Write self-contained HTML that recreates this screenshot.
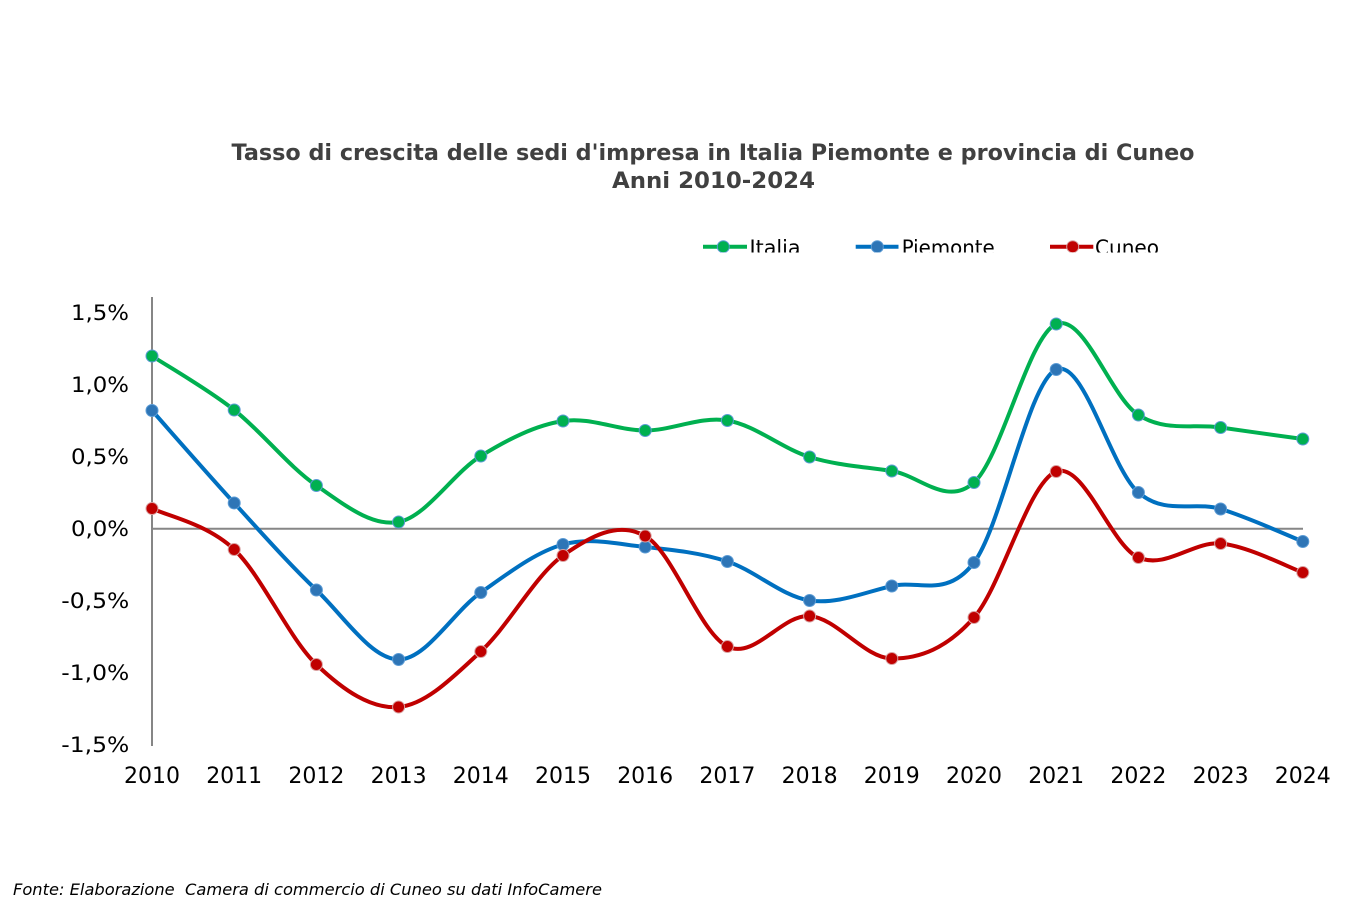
<!DOCTYPE html>
<html>
<head>
<meta charset="utf-8">
<style>
  html, body { margin:0; padding:0; background:#ffffff; }
  svg { display:block; }
</style>
</head>
<body>
<svg width="1361" height="924" viewBox="0 0 1361 924" xmlns="http://www.w3.org/2000/svg">
  <rect x="0" y="0" width="1361" height="924" fill="#ffffff"/>
  <defs>
    <clipPath id="legclip"><rect x="600" y="225" width="700" height="27.5"/></clipPath>
  </defs>

  <!-- Title -->
  <g font-family="'DejaVu Sans', 'Liberation Sans', sans-serif" font-weight="bold" font-size="22" fill="#404040" text-anchor="middle">
    <text x="713" y="160" textLength="963" lengthAdjust="spacingAndGlyphs">Tasso di crescita delle sedi d'impresa in Italia Piemonte e provincia di Cuneo</text>
    <text x="713.5" y="188" textLength="203" lengthAdjust="spacingAndGlyphs">Anni 2010-2024</text>
  </g>

  <!-- Legend -->
  <g clip-path="url(#legclip)" font-family="'DejaVu Sans', 'Liberation Sans', sans-serif" font-size="20" fill="#000">
    <line x1="703" y1="246.7" x2="747" y2="246.7" stroke="#00b050" stroke-width="4"/>
    <circle cx="723.3" cy="246.7" r="6" fill="#00b050" stroke="#5b9bd5" stroke-width="1"/>
    <text x="749.5" y="254.5" textLength="51" lengthAdjust="spacingAndGlyphs">Italia</text>

    <line x1="855.7" y1="246.7" x2="898.5" y2="246.7" stroke="#0070c0" stroke-width="4"/>
    <circle cx="877.3" cy="246.7" r="6" fill="#2e75b6" stroke="#5b9bd5" stroke-width="1"/>
    <text x="901.7" y="254.5" textLength="93" lengthAdjust="spacingAndGlyphs">Piemonte</text>

    <line x1="1050" y1="246.7" x2="1093.3" y2="246.7" stroke="#c00000" stroke-width="4"/>
    <circle cx="1072.7" cy="246.7" r="6" fill="#c00000" stroke="#d9a0a0" stroke-width="1"/>
    <text x="1095" y="254.5" textLength="64" lengthAdjust="spacingAndGlyphs">Cuneo</text>
  </g>

  <!-- Axes -->
  <line x1="152" y1="297" x2="152" y2="746" stroke="#868686" stroke-width="2"/>
  <line x1="152" y1="528.7" x2="1303" y2="528.7" stroke="#868686" stroke-width="2"/>

  <!-- Y labels -->
  <g font-family="'DejaVu Sans', 'Liberation Sans', sans-serif" font-size="21" fill="#000" text-anchor="end">
    <text x="129" y="320.2" textLength="58" lengthAdjust="spacingAndGlyphs">1,5%</text>
    <text x="129" y="392.2" textLength="58" lengthAdjust="spacingAndGlyphs">1,0%</text>
    <text x="129" y="464.2" textLength="58" lengthAdjust="spacingAndGlyphs">0,5%</text>
    <text x="129" y="536.2" textLength="58" lengthAdjust="spacingAndGlyphs">0,0%</text>
    <text x="129.3" y="608.2" textLength="68" lengthAdjust="spacingAndGlyphs">-0,5%</text>
    <text x="129.3" y="680.2" textLength="68" lengthAdjust="spacingAndGlyphs">-1,0%</text>
    <text x="129.3" y="752.2" textLength="68" lengthAdjust="spacingAndGlyphs">-1,5%</text>
  </g>

  <!-- X labels -->
  <g font-family="'DejaVu Sans', 'Liberation Sans', sans-serif" font-size="22" fill="#000" text-anchor="middle">
    <text x="152" y="783">2010</text>
    <text x="234.2" y="783">2011</text>
    <text x="316.4" y="783">2012</text>
    <text x="398.6" y="783">2013</text>
    <text x="480.8" y="783">2014</text>
    <text x="563" y="783">2015</text>
    <text x="645.2" y="783">2016</text>
    <text x="727.4" y="783">2017</text>
    <text x="809.6" y="783">2018</text>
    <text x="891.8" y="783">2019</text>
    <text x="974" y="783">2020</text>
    <text x="1056.2" y="783">2021</text>
    <text x="1138.4" y="783">2022</text>
    <text x="1220.6" y="783">2023</text>
    <text x="1302.8" y="783">2024</text>
  </g>

  <!-- Italia -->
  <path fill="none" stroke="#00b050" stroke-width="4" stroke-linejoin="round" stroke-linecap="round"
    d="M152,356 C165.7,365 206.8,388.42 234.2,410
       C261.6,431.58 289,466.83 316.4,485.5
       C343.8,504.17 371.2,526.92 398.6,522
       C426,517.08 453.4,472.83 480.8,456
       C508.2,439.17 535.6,425.25 563,421
       C590.4,416.75 617.8,430.58 645.2,430.5
       C672.6,430.42 700,416.08 727.4,420.5
       C754.8,424.92 782.2,448.58 809.6,457
       C837,465.42 864.4,466.75 891.8,471
       C919.2,475.25 946.6,507 974,482.5
       C1001.4,458 1028.8,335.25 1056.2,324
       C1083.6,312.75 1111,397.75 1138.4,415
       C1165.8,432.25 1193.2,423.5 1220.6,427.5
       C1248,431.5 1289.1,437.08 1302.8,439"/>

  <!-- Piemonte -->
  <path fill="none" stroke="#0070c0" stroke-width="4" stroke-linejoin="round" stroke-linecap="round"
    d="M152,410.5 C165.7,425.92 206.8,473.08 234.2,503
       C261.6,532.92 289,563.92 316.4,590
       C343.8,616.08 371.2,659.08 398.6,659.5
       C426,659.92 453.4,611.67 480.8,592.5
       C508.2,573.33 535.6,552.08 563,544.5
       C590.4,536.92 617.8,544.17 645.2,547
       C672.6,549.83 700,552.58 727.4,561.5
       C754.8,570.42 782.2,596.42 809.6,600.5
       C837,604.58 864.4,592.33 891.8,586
       C919.2,579.67 946.6,598.58 974,562.5
       C1001.4,526.42 1028.8,381.17 1056.2,369.5
       C1083.6,357.83 1111,469.25 1138.4,492.5
       C1165.8,515.75 1193.2,500.83 1220.6,509
       C1248,517.17 1289.1,536.08 1302.8,541.5"/>

  <!-- Cuneo -->
  <path fill="none" stroke="#c00000" stroke-width="4" stroke-linejoin="round" stroke-linecap="round"
    d="M152,508.5 C165.7,515.33 206.8,523.5 234.2,549.5
       C261.6,575.5 289,638.25 316.4,664.5
       C343.8,690.75 371.2,709.17 398.6,707
       C426,704.83 453.4,676.75 480.8,651.5
       C508.2,626.25 535.6,574.75 563,555.5
       C590.4,536.25 617.8,520.83 645.2,536
       C672.6,551.17 700,633.17 727.4,646.5
       C754.8,659.83 782.2,614 809.6,616
       C837,618 864.4,658.25 891.8,658.5
       C919.2,658.75 946.6,648.67 974,617.5
       C1001.4,586.33 1028.8,481.5 1056.2,471.5
       C1083.6,461.5 1111,545.5 1138.4,557.5
       C1165.8,569.5 1193.2,541 1220.6,543.5
       C1248,546 1289.1,567.67 1302.8,572.5"/>

  <!-- Italia markers -->
  <g fill="#00b050" stroke="#5b9bd5" stroke-width="1">
    <circle cx="152" cy="356" r="6"/>
    <circle cx="234.2" cy="410" r="6"/>
    <circle cx="316.4" cy="485.5" r="6"/>
    <circle cx="398.6" cy="522" r="6"/>
    <circle cx="480.8" cy="456" r="6"/>
    <circle cx="563" cy="421" r="6"/>
    <circle cx="645.2" cy="430.5" r="6"/>
    <circle cx="727.4" cy="420.5" r="6"/>
    <circle cx="809.6" cy="457" r="6"/>
    <circle cx="891.8" cy="471" r="6"/>
    <circle cx="974" cy="482.5" r="6"/>
    <circle cx="1056.2" cy="324" r="6"/>
    <circle cx="1138.4" cy="415" r="6"/>
    <circle cx="1220.6" cy="427.5" r="6"/>
    <circle cx="1302.8" cy="439" r="6"/>
  </g>

  <!-- Piemonte markers -->
  <g fill="#2e75b6" stroke="#5b9bd5" stroke-width="1">
    <circle cx="152" cy="410.5" r="6"/>
    <circle cx="234.2" cy="503" r="6"/>
    <circle cx="316.4" cy="590" r="6"/>
    <circle cx="398.6" cy="659.5" r="6"/>
    <circle cx="480.8" cy="592.5" r="6"/>
    <circle cx="563" cy="544.5" r="6"/>
    <circle cx="645.2" cy="547" r="6"/>
    <circle cx="727.4" cy="561.5" r="6"/>
    <circle cx="809.6" cy="600.5" r="6"/>
    <circle cx="891.8" cy="586" r="6"/>
    <circle cx="974" cy="562.5" r="6"/>
    <circle cx="1056.2" cy="369.5" r="6"/>
    <circle cx="1138.4" cy="492.5" r="6"/>
    <circle cx="1220.6" cy="509" r="6"/>
    <circle cx="1302.8" cy="541.5" r="6"/>
  </g>

  <!-- Cuneo markers -->
  <g fill="#c00000" stroke="#d9a0a0" stroke-width="1">
    <circle cx="152" cy="508.5" r="6"/>
    <circle cx="234.2" cy="549.5" r="6"/>
    <circle cx="316.4" cy="664.5" r="6"/>
    <circle cx="398.6" cy="707" r="6"/>
    <circle cx="480.8" cy="651.5" r="6"/>
    <circle cx="563" cy="555.5" r="6"/>
    <circle cx="645.2" cy="536" r="6"/>
    <circle cx="727.4" cy="646.5" r="6"/>
    <circle cx="809.6" cy="616" r="6"/>
    <circle cx="891.8" cy="658.5" r="6"/>
    <circle cx="974" cy="617.5" r="6"/>
    <circle cx="1056.2" cy="471.5" r="6"/>
    <circle cx="1138.4" cy="557.5" r="6"/>
    <circle cx="1220.6" cy="543.5" r="6"/>
    <circle cx="1302.8" cy="572.5" r="6"/>
  </g>

  <!-- Footer -->
  <text x="13" y="895" xml:space="preserve" font-family="'DejaVu Sans', 'Liberation Sans', sans-serif" font-style="italic" font-size="16" fill="#000" textLength="589" lengthAdjust="spacingAndGlyphs">Fonte: Elaborazione  Camera di commercio di Cuneo su dati InfoCamere</text>
</svg>
</body>
</html>
